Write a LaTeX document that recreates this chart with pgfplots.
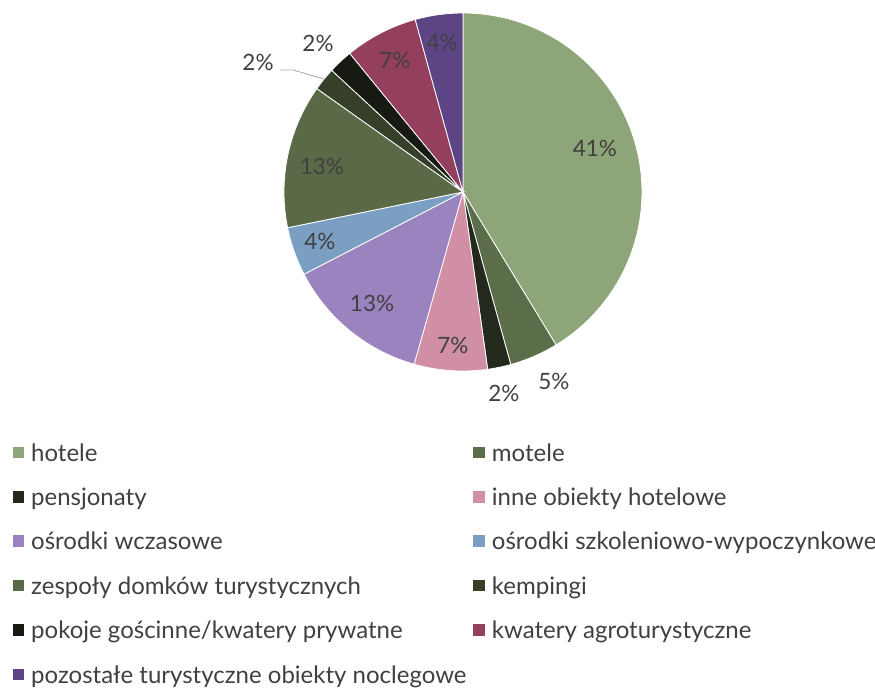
\documentclass[border=0pt]{standalone}
\usepackage{pgfplots}
\pgfplotsset{compat=1.18}
\usepackage{fontspec}
\setmainfont{Lato}
\definecolor{cHot}{HTML}{8EA57A}
\definecolor{cMot}{HTML}{5C6D49}
\definecolor{cPen}{HTML}{232A1D}
\definecolor{cInn}{HTML}{D08FA4}
\definecolor{cWcz}{HTML}{9B83C0}
\definecolor{cSzk}{HTML}{7B9EC3}
\definecolor{cZes}{HTML}{5A6A47}
\definecolor{cKem}{HTML}{364029}
\definecolor{cPok}{HTML}{161A12}
\definecolor{cAgr}{HTML}{933F5D}
\definecolor{cPoz}{HTML}{5C4485}
\definecolor{txt}{HTML}{404040}
\newcommand{\fnt}{\fontsize{22.5bp}{27bp}\selectfont}
\newcommand{\lfnt}{\fontsize{24bp}{28bp}\selectfont}
% slice: start cumulative %, end cumulative %
\newcommand{\slice}[3]{%
  \addplot[fill=#3, draw=white, line width=0.8bp, domain={90-3.6*#2}:{90-3.6*#1}, samples=80, variable=\t]
    ({cos(\t)},{sin(\t)}) -- (axis cs:0,0) -- cycle;}
\begin{document}
\begin{tikzpicture}
\useasboundingbox (-284bp,-317bp) rectangle (591bp,371bp);
\begin{axis}[
  at={(0,0)}, anchor=south west,
  scale only axis, width=358bp, height=358bp,
  xmin=-1, xmax=1, ymin=-1, ymax=1,
  hide axis, clip=false,
  legend columns=2,
  legend style={draw=none, fill=none, inner sep=0pt, outer sep=0pt,
    at={(-0.7578,-0.2044)}, anchor=north west,
    font=\lfnt, text=txt,
    column sep=3.5bp, row sep=22.4bp,
    nodes={text height=17bp, text depth=5bp, inner ysep=0pt, inner xsep=3.5bp},
  },
  legend cell align=left,
  legend image code/.code={\fill[#1, draw=none] (0bp,-3bp) rectangle (11.5bp,8.5bp);},
]
% cumulative shares (percent)
\slice{0}{41.3}{cHot}
\slice{41.3}{45.7}{cMot}
\slice{45.7}{47.8}{cPen}
\slice{47.8}{54.4}{cInn}
\slice{54.4}{67.4}{cWcz}
\slice{67.4}{71.8}{cSzk}
\slice{71.8}{84.8}{cZes}
\slice{84.8}{86.9}{cKem}
\slice{86.9}{89.1}{cPok}
\slice{89.1}{95.7}{cAgr}
\slice{95.7}{100}{cPoz}
\legend{hotele, motele, pensjonaty, inne obiekty hotelowe, ośrodki wczasowe, ośrodki szkoleniowo-wypoczynkowe, zespoły domków turystycznych, kempingi, pokoje gościnne/kwatery prywatne, kwatery agroturystyczne, pozostałe turystyczne obiekty noclegowe}
\draw[color=black!35, line width=0.8bp] (axis cs:-1.022,0.682) -- (axis cs:-0.950,0.682) -- (axis cs:-0.777,0.631);
\begin{scope}[every node/.style={font=\fnt, text=txt}]
\node at (axis cs:0.737,0.246) {41\%};
\node at (axis cs:0.508,-1.061) {5\%};
\node at (axis cs:0.229,-1.123) {2\%};
\node at (axis cs:-0.056,-0.855) {7\%};
\node at (axis cs:-0.508,-0.620) {13\%};
\node at (axis cs:-0.799,-0.279) {4\%};
\node at (axis cs:-0.788,0.140) {13\%};
\node at (axis cs:-1.145,0.726) {2\%};
\node at (axis cs:-0.810,0.832) {2\%};
\node at (axis cs:-0.380,0.737) {7\%};
\node at (axis cs:-0.117,0.838) {4\%};
\end{scope}
\end{axis}
\end{tikzpicture}
\end{document}
